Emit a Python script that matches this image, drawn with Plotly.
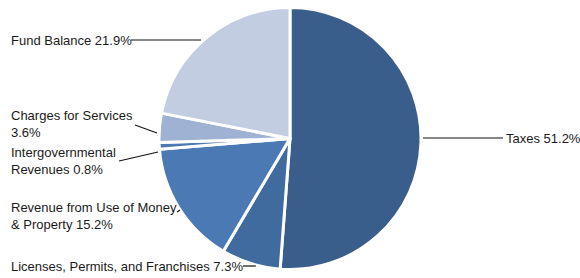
import plotly.graph_objects as go

categories = ["Taxes", "Licenses, Permits, and Franchises", "Revenue from Use of Money & Property",
              "Intergovernmental Revenues", "Charges for Services", "Fund Balance"]
values = [51.2, 7.3, 15.2, 0.8, 3.6, 21.9]
label_text = ["Taxes 51.2%", "Licenses, Permits, and Franchises 7.3%",
              "Revenue from Use of Money<br>& Property 15.2%",
              "Intergovernmental<br>Revenues 0.8%", "Charges for Services<br>3.6%",
              "Fund Balance 21.9%"]
colors = ["#395E8B", "#3F6B9E", "#4A79B4", "#4A79B4", "#A0B2D3", "#C2CDE2"]

W, H = 580, 278
cx, cy, r = 290, 138.5, 131

# label placement (pixel): x, y, anchor; leader line (pixel) from -> to
label_pos = [(504, 138, "left"), (9, 266, "left"), (9, 216, "left"),
             (9, 161, "left"), (9, 124, "left"), (9, 40, "left")]
leaders = [((423, 138), (503, 138)), ((243, 266), (256, 266)), ((177, 212), (180, 210)),
           ((119, 161), (158, 152)), ((135, 125), (157, 133)), ((131, 40), (201, 40))]

px = lambda x: x / W
py = lambda y: 1 - y / H

fig = go.Figure(go.Pie(
    labels=categories, values=values, sort=False, direction="clockwise", rotation=0,
    marker=dict(colors=colors, line=dict(color="white", width=3)),
    textinfo="none", hoverinfo="label+percent", showlegend=False,
    domain=dict(x=[px(cx - r), px(cx + r)], y=[py(cy + r), py(cy - r)]),
))

for (x, y, a), t in zip(label_pos, label_text):
    fig.add_annotation(x=px(x), y=py(y), xref="paper", yref="paper", text=t, showarrow=False,
                       xanchor=a, yanchor="middle", align="left",
                       font=dict(family="Liberation Sans Narrow, Liberation Sans, Arial, sans-serif", size=13, color="#1a1a1a"))
for (x0, y0), (x1, y1) in leaders:
    fig.add_shape(type="line", xref="paper", yref="paper", x0=px(x0), y0=py(y0), x1=px(x1), y1=py(y1),
                  line=dict(color="#111111", width=1.2))

fig.update_layout(width=W, height=H, margin=dict(l=0, r=0, t=0, b=0),
                  paper_bgcolor="white", plot_bgcolor="white")
fig.write_html("out.html", config={"displayModeBar": False},
               post_script="document.body.style.margin='0';document.body.style.overflow='hidden';")
